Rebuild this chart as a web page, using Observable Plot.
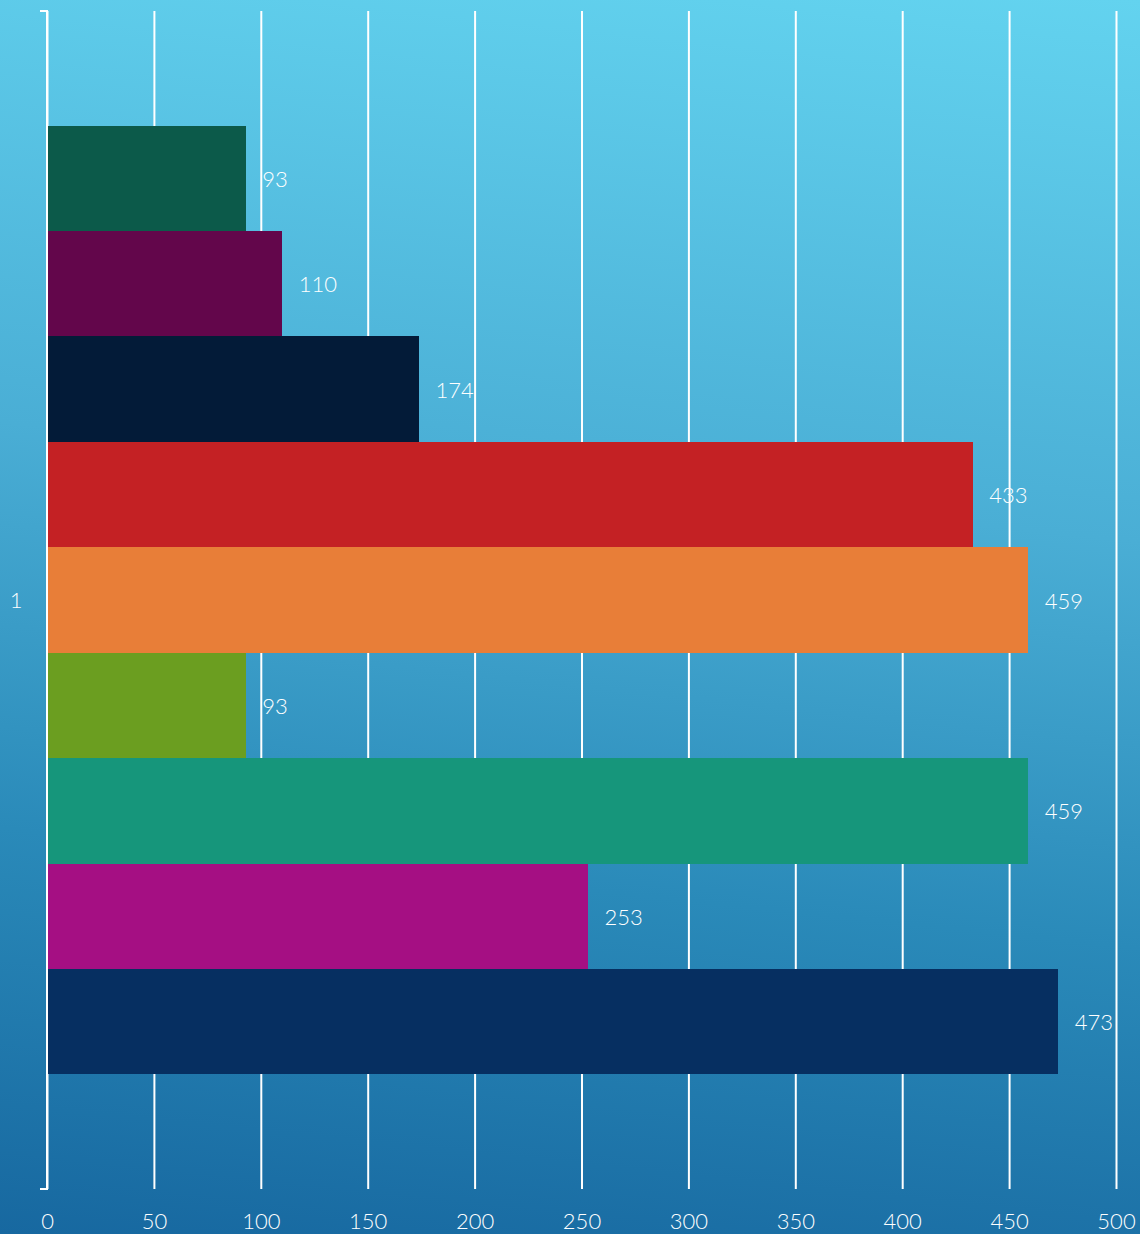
<!DOCTYPE html>
<html>
<head>
<meta charset="utf-8">
<script src="https://cdn.jsdelivr.net/npm/d3@7"></script>
<script src="https://cdn.jsdelivr.net/npm/@observablehq/plot@0.6"></script>
<style>
  html, body { margin: 0; padding: 0; }
  #chart {
    width: 1140px; height: 1234px; overflow: hidden;
    background: linear-gradient(186deg, #63d3ef 0%, #4aaed5 40%, #2a8ab9 70%, #1768a0 100%);
    font-family: Lato, "Open Sans", sans-serif;
  }
  #chart svg { display: block; }
  #chart svg text { font-weight: 300; }
</style>
</head>
<body>
<div id="chart"></div>
<script>
const groups = ["1"];
const series = ["Series 1", "Series 2", "Series 3", "Series 4", "Series 5", "Series 6", "Series 7", "Series 8", "Series 9"];
const values = [93, 110, 174, 433, 459, 93, 459, 253, 473];
const colors = ["#0c5a4a", "#63064b", "#031b38", "#c42124", "#e87e38", "#6b9e20", "#16967b", "#a50f83", "#062f61"];
const xTicks = [0, 50, 100, 150, 200, 250, 300, 350, 400, 450, 500];

const data = series.map((s, i) => ({group: groups[0], series: s, value: values[i], color: colors[i]}));

const bracket = (index, scales, values, dims) => {
  const x0 = scales.x(0);
  const top = dims.marginTop, bottom = dims.height - dims.marginBottom;
  const p = d3.create("svg:path")
    .attr("d", `M${x0 - 7},${top}H${x0}V${bottom}H${x0 - 7}`)
    .attr("fill", "none").attr("stroke", "white").attr("stroke-width", 2);
  return p.node();
};

const chart = Plot.plot({
  width: 1140,
  height: 1234,
  marginLeft: 47,
  marginRight: 24,
  marginTop: 11,
  marginBottom: 45,
  style: {background: "transparent", color: "white", fontFamily: "Lato, 'Open Sans', sans-serif", fontSize: "22px"},
  x: {domain: [0, 500]},
  fy: {domain: groups, padding: 0},
  y: {domain: series, paddingInner: 0, paddingOuter: 1.086, round: false, axis: null},
  color: {type: "identity"},
  marks: [
    Plot.gridX(xTicks, {stroke: "white", strokeOpacity: 1, strokeWidth: 2}),
    Plot.barX(data, {x: "value", y: "series", fy: "group", fill: "color", shapeRendering: "crispEdges"}),
    Plot.text(data, {x: "value", y: "series", fy: "group", text: d => String(d.value), textAnchor: "start", dx: 16, dy: 1, fill: "white", fontSize: 22}),
    bracket,
    Plot.axisX(xTicks, {anchor: "bottom", tickSize: 0, tickPadding: 24, label: null, fontSize: 22}),
    Plot.axisFy({anchor: "left", tickSize: 0, tickPadding: 25, label: null, fontSize: 22})
  ]
});
document.getElementById("chart").appendChild(chart);
</script>
</body>
</html>
